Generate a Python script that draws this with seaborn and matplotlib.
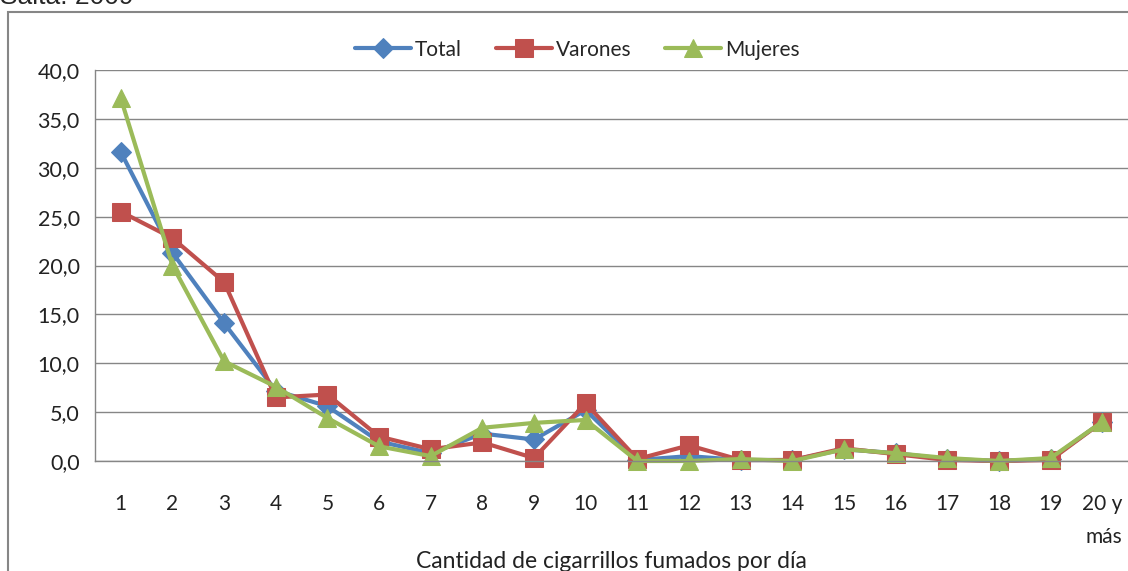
import numpy as np
import pandas as pd
import matplotlib
matplotlib.use("Agg")
import matplotlib.pyplot as plt
import seaborn as sns
from matplotlib.patches import Rectangle
from matplotlib.ticker import FixedLocator, FuncFormatter

# ================= DATOS =================
categorias = [str(i) for i in range(1, 20)] + ["20 y\nmás"]
total = [31.6, 21.3, 14.1, 7.2, 5.6, 2.0, 0.8, 2.8, 2.2, 5.2,
         0.1, 0.5, 0.1, 0.1, 1.2, 0.8, 0.2, 0.0, 0.2, 4.0]
varones = [25.5, 22.8, 18.3, 6.5, 6.8, 2.5, 1.2, 1.9, 0.3, 5.9,
           0.2, 1.6, 0.1, 0.1, 1.3, 0.7, 0.1, 0.0, 0.1, 4.0]
mujeres = [37.1, 20.0, 10.2, 7.6, 4.4, 1.5, 0.5, 3.4, 3.9, 4.2,
           0.0, 0.0, 0.2, 0.0, 1.2, 0.8, 0.3, 0.0, 0.3, 4.0]

series = [("Total", total, "#4F81BD", "D", 10),
          ("Varones", varones, "#C0504D", "s", 12.5),
          ("Mujeres", mujeres, "#9BBB59", "^", 13)]

# ================= ESTILO =================
sns.set_theme(style="white")
plt.rcParams['font.family'] = ['Lato', 'DejaVu Sans']

fig = plt.figure(figsize=(11.28, 5.71), dpi=100)
ax = fig.add_axes([95 / 1128, 1 - 461 / 571, 1 - 95 / 1128, (461 - 70) / 571])

x = np.arange(len(categorias))
for nombre, valores, color, marker, ms in series:
    df = pd.DataFrame({"x": x, "y": valores})
    sns.lineplot(data=df, x="x", y="y", ax=ax, color=color, linewidth=3.0,
                 marker=marker, markersize=ms, markeredgecolor=color,
                 label=nombre, clip_on=False)

ax.set_xlim(-0.5, len(categorias) - 0.5)
ax.set_ylim(0, 40)
ax.set_yticks(np.arange(0, 41, 5))
ax.yaxis.set_major_formatter(FuncFormatter(lambda v, p: f"{v:.1f}".replace(".", ",")))
ax.set_xticks(x)
ax.set_xticklabels(categorias, fontsize=15, color="#222222", multialignment="right",
                   linespacing=1.8)
ax.xaxis.set_minor_locator(FixedLocator(np.arange(-0.5, len(categorias), 1)))
ax.tick_params(axis="x", which="major", length=0, pad=24)
ax.tick_params(axis="x", which="minor", length=7, color="#868686", width=1)
ax.tick_params(axis="y", length=7, color="#868686", width=1, labelsize=15.5,
               labelcolor="#222222", pad=4)

ax.grid(axis="y", color="#868686", linewidth=1)
ax.set_axisbelow(True)
for lado in ["top", "right"]:
    ax.spines[lado].set_visible(False)
for lado in ["left", "bottom"]:
    ax.spines[lado].set_color("#868686")
    ax.spines[lado].set_linewidth(1)

ax.set_xlabel("Cantidad de cigarrillos fumados por día", fontsize=16.5,
              color="#222222", labelpad=3)
ax.set_ylabel("")

leg = ax.legend(loc="center", bbox_to_anchor=(0.467, 1.052), ncol=3,
                frameon=False, fontsize=15, handlelength=2.7, columnspacing=1.6,
                handletextpad=0.2)

# marco exterior del gráfico
fig.patches.append(Rectangle((8 / 1128, -0.1), 1.2, 1 - 12 / 571 + 0.1,
                             transform=fig.transFigure, fill=False,
                             edgecolor="#868686", linewidth=1.5))
fig.text(0.0, 1 - 3.5 / 571, "Salta. 2009", fontsize=19,
         family=['Liberation Sans', 'DejaVu Sans'], va="baseline")

fig.savefig("out.png", dpi=100)
